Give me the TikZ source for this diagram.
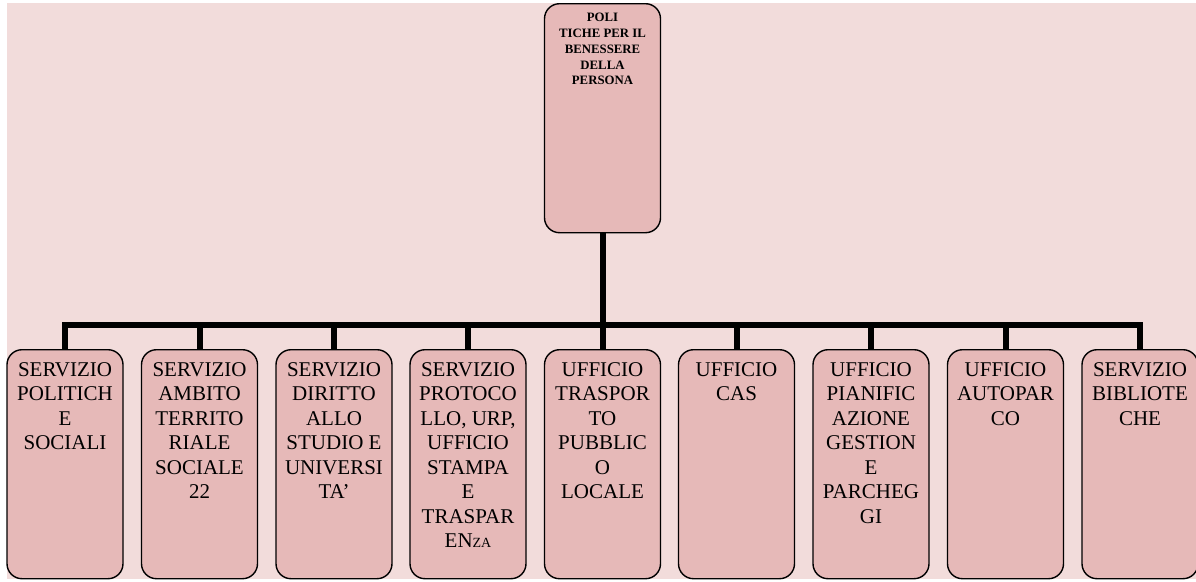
\documentclass[tikz,border=0pt]{standalone}
\usepackage{fontspec}
\setmainfont{Liberation Serif}
\definecolor{bgpink}{HTML}{F2DCDB}
\definecolor{boxpink}{HTML}{E6B9B8}
\newcommand\leaftxt[1]{\parbox[c][229pt][t]{114pt}{\vspace*{12.5pt}\centering\fontsize{21}{24.5}\selectfont #1\par}}
\newcommand\toptxt[1]{\parbox[c][229pt][t]{114pt}{\vspace*{9.5pt}\centering\fontsize{12.8}{15.8}\selectfont\bfseries #1\par}}
\tikzset{
  orgbox/.style={draw=black, fill=boxpink, line width=1.4pt, rounded corners=15pt,
    minimum width=116pt, minimum height=229pt, inner sep=0pt, anchor=north},
  conn/.style={draw=black, line width=6pt, line join=miter}
}
\begin{document}
\begin{tikzpicture}[x=1pt,y=-1pt]
\useasboundingbox (0,0) rectangle (1196,581);
\fill[bgpink] (7,3) rectangle (1196,579);
\begin{scope}
\clip (0,0) rectangle (1196,581);
\node[orgbox] (top) at (602.5,3) {\toptxt{POLI\\TICHE PER IL\\BENESSERE\\DELLA\\PERSONA}};
\node[orgbox] (b1) at (65,349) {\leaftxt{SERVIZIO\\POLITICH\\E\\SOCIALI}};
\node[orgbox] (b2) at (199.5,349) {\leaftxt{SERVIZIO\\AMBITO\\TERRITO\\RIALE\\SOCIALE\\22}};
\node[orgbox] (b3) at (334,349) {\leaftxt{SERVIZIO\\DIRITTO\\ALLO\\STUDIO E\\UNIVERSI\\TA’}};
\node[orgbox] (b4) at (468,349) {\leaftxt{SERVIZIO\\PROTOCO\\LLO, URP,\\UFFICIO\\STAMPA\\E\\TRASPAR\\EN{\fontsize{14}{14}\selectfont ZA}}};
\node[orgbox] (b5) at (602.5,349) {\leaftxt{UFFICIO\\TRASPOR\\TO\\PUBBLIC\\O\\LOCALE}};
\node[orgbox] (b6) at (736.5,349) {\leaftxt{UFFICIO\\CAS}};
\node[orgbox] (b7) at (871,349) {\leaftxt{UFFICIO\\PIANIFIC\\AZIONE\\GESTION\\E\\PARCHEG\\GI}};
\node[orgbox] (b8) at (1005.5,349) {\leaftxt{UFFICIO\\AUTOPAR\\CO}};
\node[orgbox] (b9) at (1140,349) {\leaftxt{SERVIZIO\\BIBLIOTE\\CHE}};
\coordinate (bar) at (602.5,325);
\draw[conn] (top.south) -- (top.south |- bar);
\draw[conn] (b1.north) -- (b1.north |- bar) -- (b9.north |- bar) -- (b9.north);
\foreach \n in {b2,b3,b4,b5,b6,b7,b8}{
  \draw[conn] (\n.north) -- (\n.north |- bar);
}
\end{scope}
\end{tikzpicture}
\end{document}
